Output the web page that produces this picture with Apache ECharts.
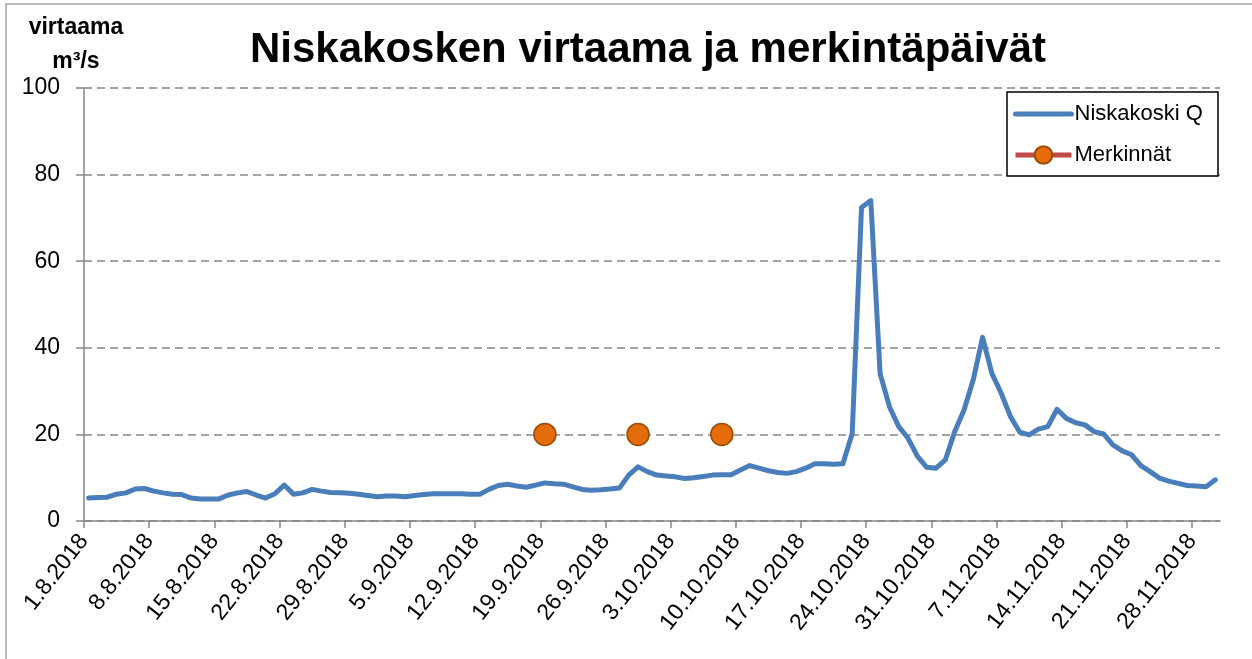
<!DOCTYPE html>
<html>
<head>
<meta charset="utf-8">
<script src="https://cdn.jsdelivr.net/npm/echarts@6/dist/echarts.min.js"></script>
<style>
  html, body { margin: 0; padding: 0; background: #fff; }
  #chart { width: 1252px; height: 659px; }
</style>
</head>
<body>
<div id="chart"></div>
<script>
// daily mean flow, Niskakoski, starting 1.8.2018 (m3/s)
const startDate = '1.8.2018';
const flowQ = [
  5.3, 5.4, 5.5, 6.2, 6.5, 7.4, 7.5, 6.9, 6.5, 6.2,
  6.1, 5.3, 5.1, 5.1, 5.1, 6.0, 6.5, 6.8, 6.0, 5.3,
  6.3, 8.3, 6.2, 6.5, 7.3, 6.9, 6.6, 6.5, 6.4, 6.2,
  5.9, 5.6, 5.8, 5.8, 5.6, 5.9, 6.1, 6.3, 6.3, 6.3,
  6.3, 6.2, 6.2, 7.3, 8.2, 8.5, 8.1, 7.8, 8.3, 8.8,
  8.6, 8.5, 7.9, 7.3, 7.1, 7.2, 7.4, 7.6, 10.6, 12.5,
  11.4, 10.6, 10.4, 10.2, 9.8, 10.0, 10.3, 10.6, 10.7, 10.7,
  11.8, 12.8, 12.2, 11.6, 11.2, 11.0, 11.4, 12.2, 13.2, 13.2,
  13.1, 13.2, 20.2, 72.4, 74.0, 34.0, 26.4, 21.8, 19.1, 15.0,
  12.4, 12.2, 14.1, 20.6, 25.6, 32.6, 42.4, 34.1, 29.5, 24.1,
  20.5, 19.9, 21.2, 21.8, 25.8, 23.7, 22.7, 22.2, 20.6, 20.1,
  17.6, 16.2, 15.3, 12.8, 11.4, 9.9, 9.2, 8.7, 8.2, 8.1,
  7.9, 9.5
];
const markDates = ['19.9.2018', '29.9.2018', '8.10.2018'];
const markValues = [20, 20, 20];
const tickDates = [
  '1.8.2018', '8.8.2018', '15.8.2018', '22.8.2018', '29.8.2018',
  '5.9.2018', '12.9.2018', '19.9.2018', '26.9.2018', '3.10.2018',
  '10.10.2018', '17.10.2018', '24.10.2018', '31.10.2018', '7.11.2018',
  '14.11.2018', '21.11.2018', '28.11.2018'
];

const DAY = 86400000;
function parseDate(s) {
  const [d, m, y] = s.split('.').map(Number);
  return Date.UTC(y, m - 1, d);
}
const t0 = parseDate(startDate);
function dayOf(s) { return (parseDate(s) - t0) / DAY; }
function fmtDay(v) {
  const dt = new Date(t0 + Math.round(v) * DAY);
  return dt.getUTCDate() + '.' + (dt.getUTCMonth() + 1) + '.' + dt.getUTCFullYear();
}

// daily values sit in the middle of their day
const flowData = flowQ.map((v, i) => [i + 0.5, v]);
const markData = markDates.map((s, i) => [dayOf(s) + 0.5, markValues[i]]);
const tickDays = tickDates.map(dayOf);

const font = 'Liberation Sans';
const grey = '#868686';
const blue = '#4a7ebb';

const chart = echarts.init(document.getElementById('chart'));
chart.setOption({
  animation: false,
  textStyle: { fontFamily: font },
  title: [
    {
      text: 'Niskakosken virtaama ja merkintäpäivät',
      left: 643,
      top: 24,
      textAlign: 'center',
      textStyle: { fontSize: 42, fontWeight: 'bold', color: '#000', fontFamily: font }
    },
    {
      text: 'virtaama\nm³/s',
      left: 71,
      top: 6,
      textAlign: 'center',
      textStyle: { fontSize: 23, fontWeight: 'bold', color: '#000', lineHeight: 34, fontFamily: font }
    }
  ],
  graphic: [
    {
      type: 'rect',
      shape: { x: 6, y: 4, width: 1300, height: 700 },
      style: { fill: 'none', stroke: '#a6a6a6', lineWidth: 1.5 },
      silent: true
    },
    {
      type: 'rect',
      z: 3,
      shape: { x: 1007, y: 92, width: 211, height: 84 },
      style: { fill: '#fff', stroke: '#000', lineWidth: 1.5 },
      silent: true
    }
  ],
  legend: {
    z: 6,
    orient: 'vertical',
    left: 1013,
    top: 103,
    padding: 0,
    itemWidth: 56,
    itemHeight: 22,
    itemGap: 19,
    textStyle: { fontSize: 22, color: '#000', fontFamily: font, padding: [0, 0, 0, -2] },
    data: [
      { name: 'Niskakoski Q', itemStyle: { opacity: 0 }, lineStyle: { color: blue, width: 5 } },
      { name: 'Merkinnät', lineStyle: { color: '#be4b48', width: 5, opacity: 1 } }
    ]
  },
  grid: { left: 84, top: 88, right: 32, bottom: 138 },
  xAxis: {
    type: 'value',
    min: 0,
    max: flowQ.length,
    axisLine: { lineStyle: { color: grey, width: 1.5 } },
    axisTick: { show: true, customValues: tickDays, length: 7, lineStyle: { color: grey, width: 1.5 } },
    axisLabel: {
      customValues: tickDays,
      formatter: fmtDay,
      rotate: 52,
      margin: 16,
      fontSize: 23,
      color: '#000',
      fontFamily: font
    },
    splitLine: { show: false }
  },
  yAxis: {
    type: 'value',
    min: 0,
    max: 100,
    interval: 20,
    axisLine: { show: true, lineStyle: { color: grey, width: 1.5 } },
    axisTick: { show: true, length: 8, lineStyle: { color: grey, width: 1.5 } },
    axisLabel: { fontSize: 23, color: '#000', margin: 24, fontFamily: font },
    splitLine: { show: true, lineStyle: { color: grey, width: 1.5, type: [8, 5] } }
  },
  series: [
    {
      name: 'Niskakoski Q',
      type: 'line',
      data: flowData,
      symbol: 'none',
      lineStyle: { color: blue, width: 5, join: 'round', cap: 'round' },
      itemStyle: { color: blue },
      z: 2
    },
    {
      name: 'Merkinnät',
      type: 'line',
      data: markData,
      symbol: 'circle',
      symbolSize: 22,
      lineStyle: { color: '#be4b48', width: 0, opacity: 0 },
      itemStyle: { color: '#e46c0a', borderColor: '#9c4a06', borderWidth: 1.5 },
      z: 3
    }
  ]
});
</script>
</body>
</html>
